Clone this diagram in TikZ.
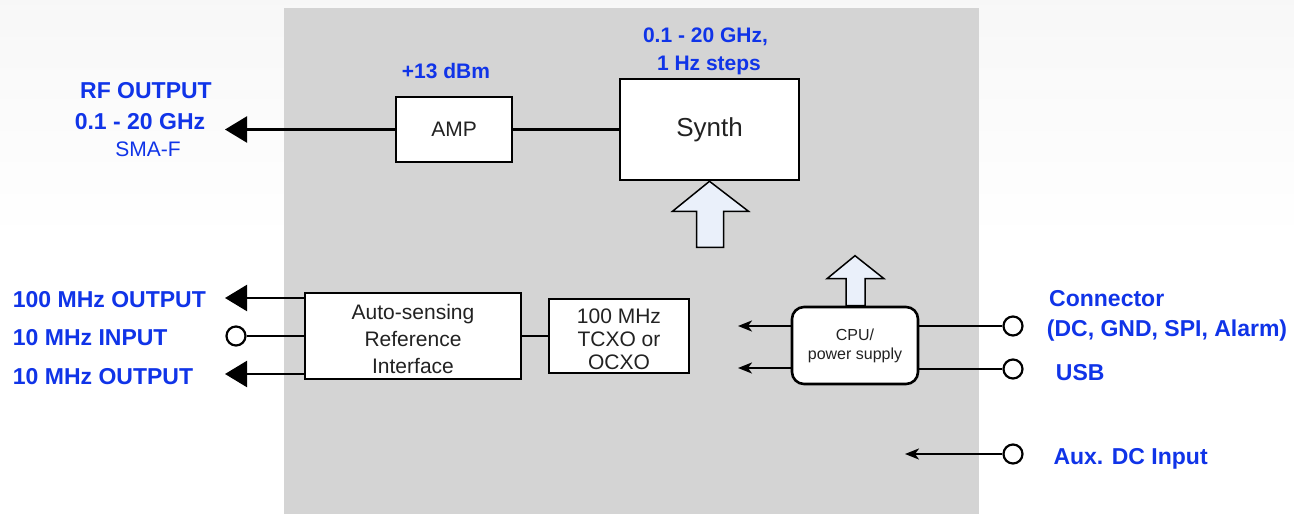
\documentclass[tikz,border=0pt]{standalone}
\usepackage{fontspec}
\setmainfont{Liberation Sans}
\usetikzlibrary{arrows.meta,positioning,calc}
\definecolor{lblblue}{RGB}{16,52,232}
\definecolor{unitgray}{RGB}{212,212,212}
\definecolor{arrowfill}{RGB}{234,240,250}
\definecolor{boxtext}{RGB}{34,34,34}
\newcommand{\lowerby}[1]{\rule{0pt}{#1}}
\tikzset{
block/.style = {draw, fill=white, rectangle, line width=2.6pt, text=boxtext, align=center, inner sep=0pt, font=\fontsize{21}{26.7}\selectfont},
cpu/.style = {block, rounded corners=12pt, font=\fontsize{16}{19}\selectfont},
port/.style = {draw, fill=white, circle, line width=2.2pt, minimum size=19pt, inner sep=0pt},
lbl/.style = {text=lblblue, inner sep=0pt, font=\fontsize{23}{27}\selectfont\bfseries, text height=16.5pt, text depth=0pt},
sublbl/.style = {lbl, font=\fontsize{21}{25}\selectfont\bfseries, text height=15pt},
smalllbl/.style = {lbl, font=\fontsize{21}{25}\selectfont, text height=15pt},
tip/.style = {coordinate},
wire/.style = {line width=2.3pt},
bigout/.style = {wire, -{Triangle[length=22pt,width=26pt]}},
smallin/.style = {wire, -{Stealth[length=14pt,width=11pt,inset=4pt]}},
fatarrow/.style = {draw, line width=1.5pt, fill=arrowfill, line join=miter}
}
\begin{document}
\begin{tikzpicture}[x=1pt, y=-1pt]
    \useasboundingbox (0,0) rectangle (1294,514);
    % background and unit
    \fill[white] (0,0) rectangle (1294,514);
    \shade[top color=gray!6, bottom color=white] (0,0) rectangle (1294,240);
    \fill[unitgray] (284,8) rectangle (979,514);

    % blocks
    \node [block, minimum width=116pt, minimum height=65pt] (amp) at (454,129.5) {AMP};
    \node [block, minimum width=179pt, minimum height=101pt, font=\fontsize{26}{30}\selectfont] (synth) at (709.5,129.5) {Synth};
    \node [block, minimum width=216pt, minimum height=86pt] (ref) at (413,336) {\lowerby{21pt}Auto-sensing\\Reference\\Interface};
    \node [block, minimum width=140pt, minimum height=74pt, font=\fontsize{21}{23}\selectfont] (osc) at (619,336) {\lowerby{21pt}100 MHz\\TCXO or\\OCXO};
    \node [cpu, minimum width=126pt, minimum height=77pt] (cpu) at (855,345.5) {CPU/\\power supply};

    % ends of the connectors
    \node [tip] (rfout) at (225,129.5) {};
    \node [tip] (out100) at (225,298) {};
    \node [port] (in10) at (236,336) {};
    \node [tip] (out10) at (225,374) {};
    \node [tip] (cpuA) at (738,326) {};
    \node [tip] (cpuB) at (738,368) {};
    \node [port] (conport) at (1013,326) {};
    \node [port] (usbport) at (1013,369) {};
    \node [port] (auxport) at (1013,454) {};
    \node [tip] (auxend) at (905,454) {};

    % labels
    \node [lbl] (rflbl) at (146,90) {RF OUTPUT};
    \node [lbl] (rfrange) at (140,121) {0.1 - 20 GHz};
    \node [smalllbl] (rfconn) at (148,149) {SMA-F};
    \node [sublbl] (amplbl) at (446,71) {+13 dBm};
    \node [sublbl] (synthlbl) at (705.5,34.7) {0.1 - 20 GHz,};
    \node [sublbl] (steplbl) at (709,62.5) {1 Hz steps};
    \node [lbl, anchor=west] (lbl100) at (12.7,299.5) {100 MHz OUTPUT};
    \node [lbl, anchor=west] (lblin) at (12.7,337) {10 MHz INPUT};
    \node [lbl, anchor=west] (lblout) at (12.7,376.3) {10 MHz OUTPUT};
    \node [lbl, anchor=west] (conlbl) at (1049,298.7) {Connector};
    \node [lbl, anchor=west] (conlbl2) at (1046.7,328) {(DC, GND, SPI, Alarm)};
    \node [lbl, anchor=west] (usblbl) at (1055.7,372) {USB};
    \node [lbl, anchor=west] (auxlbl) at (1053.3,456) {Aux. DC Input};

    % connectors
    \draw [wire] (synth) -- (amp);
    \draw [bigout] (amp.west) -- (rfout);
    \draw [wire] (ref) -- (osc);
    \draw [bigout] (ref.west |- out100) -- (out100);
    \draw [wire] (ref.west |- in10) -- (in10);
    \draw [bigout] (ref.west |- out10) -- (out10);
    \draw [smallin] (cpu.west |- cpuA) -- (cpuA);
    \draw [smallin] (cpu.west |- cpuB) -- (cpuB);
    \draw [wire] (cpu.east |- conport) -- (conport);
    \draw [wire] (cpu.east |- usbport) -- (usbport);
    \draw [smallin] (auxport) -- (auxend);

    % control arrows
    \draw [fatarrow] (synth.south) -- ++(39,30) -- ++(-25,0) -- ++(0,36) -- ++(-27,0) -- ++(0,-36) -- ++(-24,0) -- cycle;
    \draw [fatarrow] (cpu.north) ++(-9,0) -- ++(0,-27) -- ++(-19,0) -- ++(28,-23) -- ++(29,23) -- ++(-19,0) -- ++(0,27) -- cycle;
\end{tikzpicture}
\end{document}
